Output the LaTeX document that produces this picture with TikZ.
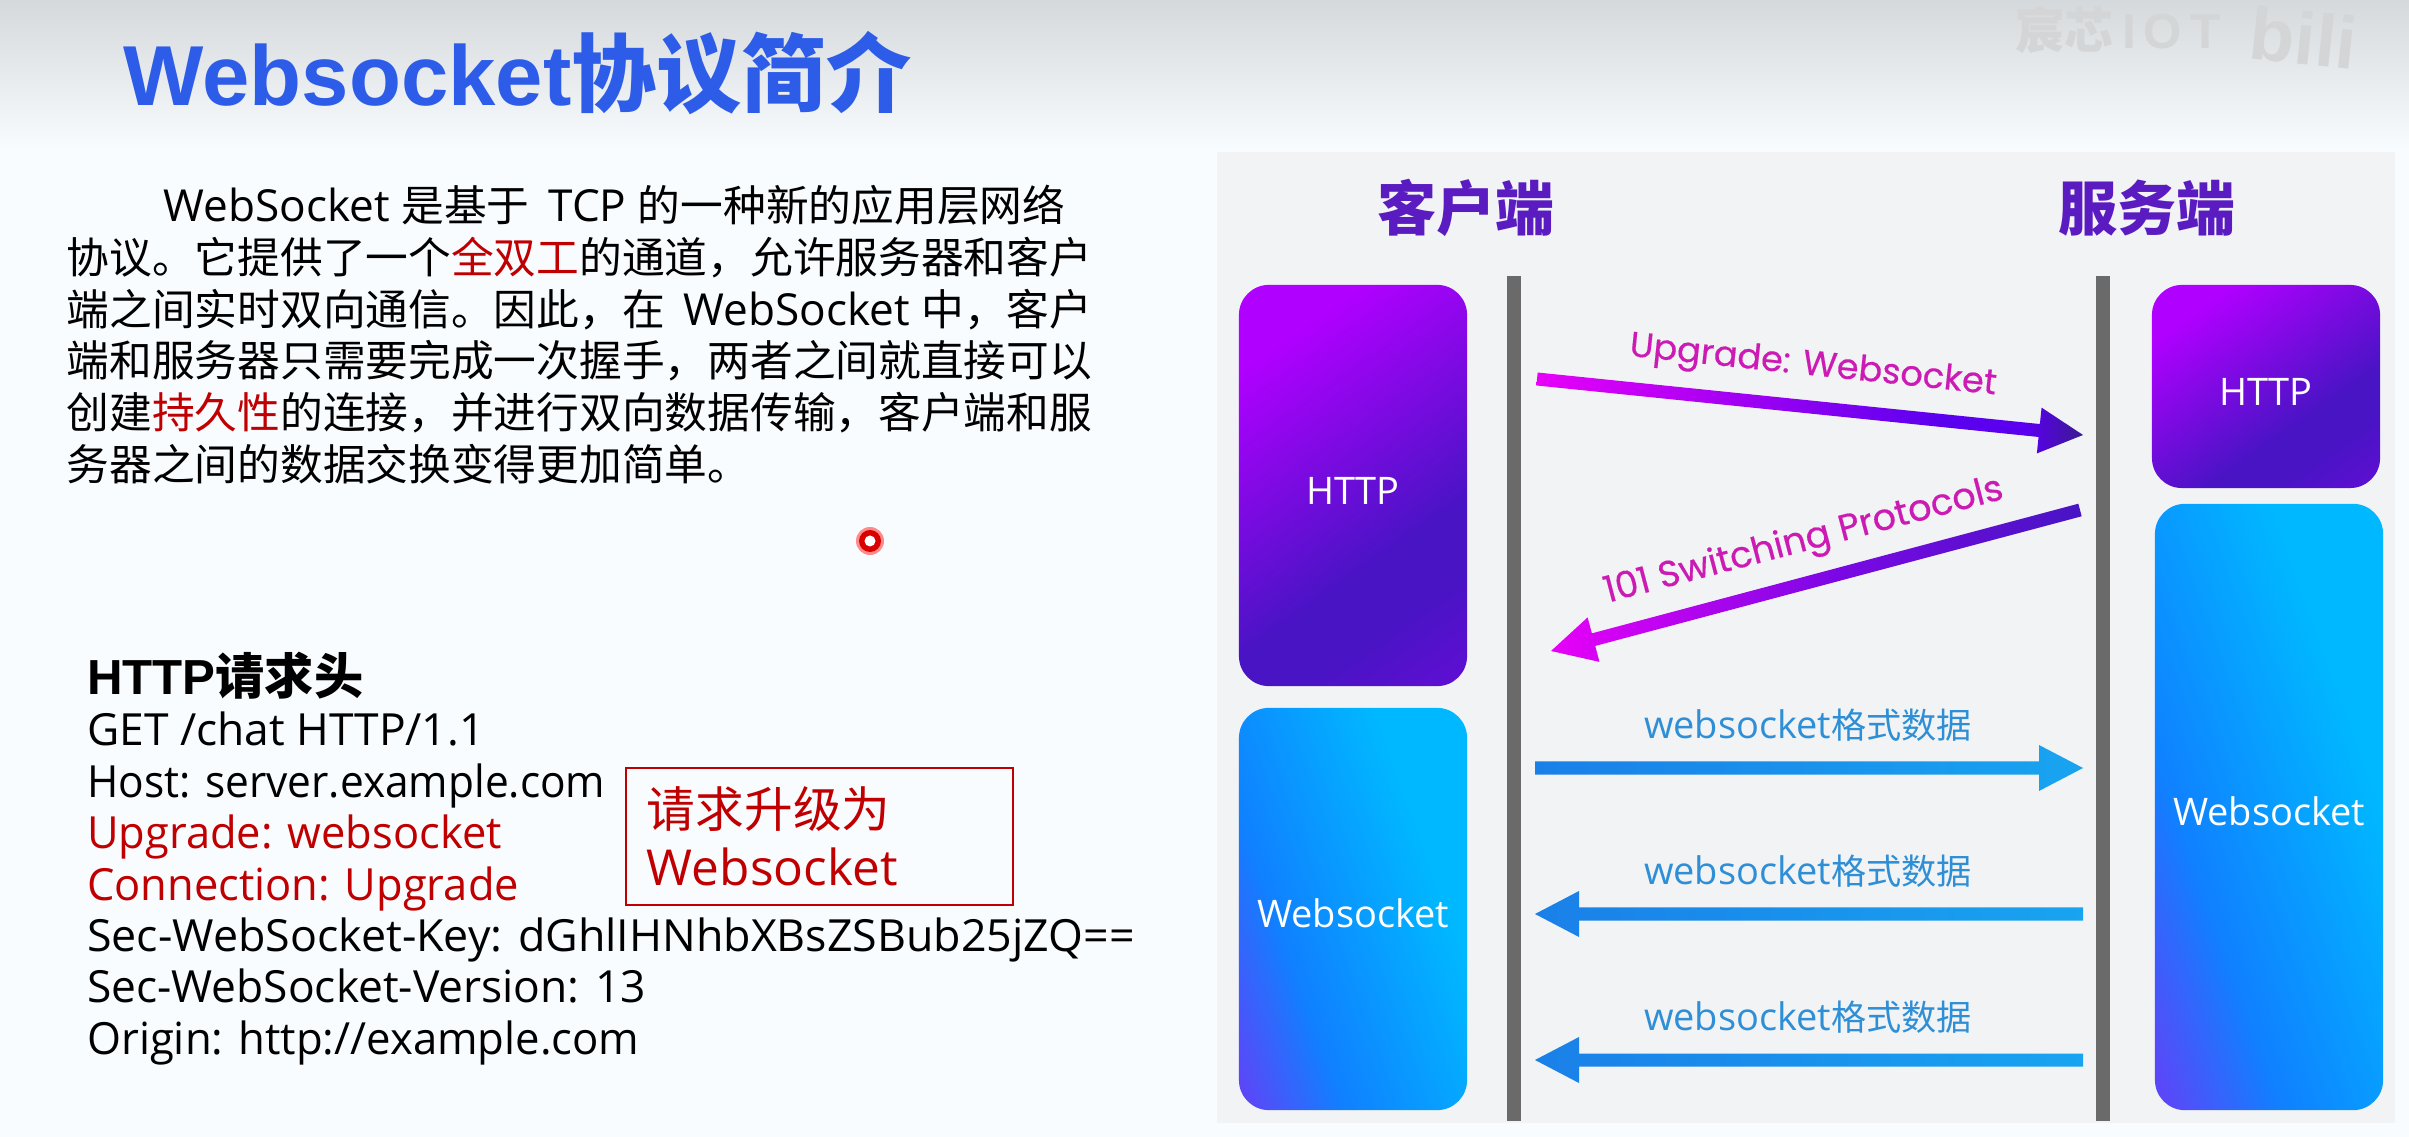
\documentclass[tikz,border=0pt]{standalone}
\usepackage{fontspec}
\setmainfont{Open Sans}
\newfontfamily\cjk{Noto Sans CJK SC}
\newfontfamily\arial{Liberation Sans}
\newfontfamily\poppins[FakeBold=.4]{Poppins}
\usetikzlibrary{calc,positioning,shadings}

\definecolor{titleblue}{HTML}{2D5DE8}
\definecolor{headred}{HTML}{C00000}
\definecolor{panelgrey}{HTML}{F2F3F4}
\definecolor{pagepale}{HTML}{F8FCFF}
\definecolor{pagetop}{HTML}{D5D9DC}
\definecolor{barblack}{HTML}{6A6A6A}
\definecolor{headpurple}{HTML}{5A1CC0}
\definecolor{markgrey}{HTML}{D3D5D6}
\definecolor{purpleA}{HTML}{B000FF}
\definecolor{purpleB}{HTML}{4814C4}
\definecolor{purpleC}{HTML}{7A08E4}
\definecolor{blueA}{HTML}{5A48F8}
\definecolor{blueB}{HTML}{1080FF}
\definecolor{blueC}{HTML}{00B8FF}
\definecolor{arrowA}{HTML}{E800F8}
\definecolor{arrowB}{HTML}{5A00EE}
\definecolor{arrowC}{HTML}{3A1A90}
\definecolor{flowA}{HTML}{1A80E8}
\definecolor{flowB}{HTML}{18A4F0}
\definecolor{flowtext}{HTML}{2E8FD6}
\definecolor{fattext}{HTML}{CC1AB4}

\pgfdeclarehorizontalshading{purplefade}{100bp}{color(0bp)=(purpleA); color(26bp)=(purpleA); color(62bp)=(purpleB); color(70bp)=(purpleB); color(100bp)=(purpleC)}
\pgfdeclarehorizontalshading{bluefade}{100bp}{color(0bp)=(blueA); color(20bp)=(blueA); color(36bp)=(blueB); color(66bp)=(blueC); color(100bp)=(blueC)}
\pgfdeclarehorizontalshading{upfade}{100bp}{color(0bp)=(arrowA); color(25bp)=(arrowA); color(62bp)=(arrowB); color(70bp)=(arrowB); color(75bp)=(arrowC); color(100bp)=(arrowC)}
\pgfdeclarehorizontalshading{downfade}{100bp}{color(0bp)=(arrowA); color(25bp)=(arrowA); color(52bp)=(purpleC); color(75bp)=(purpleB); color(100bp)=(purpleB)}
\pgfdeclarehorizontalshading{flowfade}{100bp}{color(0bp)=(flowA); color(25bp)=(flowA); color(75bp)=(flowB); color(100bp)=(flowB)}

\tikzset{
    boxbase/.style={rounded corners=.3cm,inner sep=0pt,minimum width=2.28cm,text=white,
        text height=.37cm,text depth=0pt,font=\fontsize{10.8}{12}\selectfont},
    httpbox/.style={boxbase,shading=purplefade,shading angle=-55},
    wsbox/.style={boxbase,shading=bluefade,shading angle=20},
    sidehead/.style={font=\cjk\bfseries\fontsize{16.8}{20}\selectfont,text=headpurple},
    lifeline/.style={line width=.14cm,draw=barblack},
    fatlabel/.style={text=fattext},
    flowlabel/.style={font=\fontsize{10.8}{12}\selectfont,text=flowtext},
    bodytext/.style={anchor=north west,inner sep=0pt,align=left},
}
\newcommand{\zh}[1]{{\cjk\fontsize{12.15}{14.7}\selectfont #1}}
\newcommand{\slim}[2]{\scalebox{#1}[1]{#2}}
% fat arrow from #1 to its tip #2, shaded with #3
\newcommand{\fatarrow}[3]{
    \coordinate (neck) at ($(#2)!.44cm!(#1)$);
    \shade[shading=#3] ($(#1)!.065cm!90:(#2)$) -- ($(neck)!.065cm!-90:(#1)$)
        -- ($(neck)!.23cm!-90:(#1)$) -- (#2) -- ($(neck)!.23cm!90:(#1)$)
        -- ($(neck)!.065cm!90:(#1)$) -- ($(#1)!.065cm!-90:(#2)$) -- cycle;
}

\begin{document}
\begin{tikzpicture}[x=.01cm,y=-.01cm]
    \clip (0,0) rectangle (2409,1137);
    \fill [pagepale] (0,0) rectangle (2409,1137);
    \shade [top color=pagetop,bottom color=pagepale] (0,0) rectangle (2409,150);

    % watermark
    \node [inner sep=0pt,text=markgrey,font=\cjk\bfseries\fontsize{14}{16}\selectfont] (markname) at (2118,30) {宸芯\arial\,I\,O\,T};
    \node [inner sep=0pt,anchor=west,rotate=-6,text=markgrey,font=\arial\bfseries\fontsize{21}{23}\selectfont] (marklogo) at (2250,32) {bili};

    \node [inner sep=0pt,anchor=west,text=titleblue,font=\arial\bfseries\fontsize{24.2}{28}\selectfont] (title) at (123,73) {Websocket\cjk 协议简介};

    \node [bodytext,font=\fontsize{12.55}{14.7}\selectfont] (intro) at (66,184.5) {%
        \hspace{.97cm}WebSocket \zh{是基于}\, TCP \zh{的一种新的应用层网络}\\
        \zh{协议。它提供了一个\textcolor{headred}{全双工}的通道，允许服务器和客户}\\
        \zh{端之间实时双向通信。因此，在}\, WebSocket \zh{中，客户}\\
        \zh{端和服务器只需要完成一次握手，两者之间就直接可以}\\
        \zh{创建\textcolor{headred}{持久性}的连接，并进行双向数据传输，客户端和服}\\
        \zh{务器之间的数据交换变得更加简单。}};

    \node [bodytext,font=\fontsize{12.6}{14.6}\selectfont] (request) at (86.5,651.5) {%
        {\arial\bfseries\fontsize{14}{14.6}\selectfont HTTP\cjk 请求头}\\
        GET /chat HTTP/1.1\\
        \slim{.957}{Host: server.example.com}\\
        \textcolor{headred}{\slim{.98}{Upgrade: websocket}}\\
        \textcolor{headred}{\slim{.98}{Connection: Upgrade}}\\
        \slim{1.01}{Sec-WebSocket-Key: dGhlIHNhbXBsZSBub25jZQ==}\\
        Sec-WebSocket-Version: 13\\
        \slim{.985}{Origin: http://example.com}};

    \node [draw=headred,line width=.02cm,text=headred,minimum width=3.87cm,minimum height=1.37cm,
        inner xsep=.21cm,inner ysep=0pt,align=left,text width=3.45cm,
        font=\fontsize{14.1}{16.6}\selectfont] (upgradenote) at (819.5,836.5) {{\cjk\fontsize{13.85}{16.6}\selectfont 请求升级为}\\Websocket};

    \fill [red!45!white] (870,541) circle (.14cm);
    \fill [red!85!black] (870,541) circle (.11cm);
    \fill [white] (870,541) circle (.055cm);

    % right hand figure
    \fill [panelgrey] (1217,152) rectangle (2395,1123);
    \node [sidehead] (clienthead) at (1466,208) {客户端};
    \node [sidehead] (serverhead) at (2147,208) {服务端};

    \node [httpbox,minimum height=4.01cm] (clienthttp) at (1353,485.5) {HTTP};
    \node [wsbox,minimum height=4.02cm] (clientws) at (1353,909) {Websocket};
    \node [httpbox,minimum height=2.03cm] (serverhttp) at (2266,386.5) {HTTP};
    \node [wsbox,minimum height=6.06cm] (serverws) at (2269,807) {Websocket};

    \coordinate (clienttop) at (1514,276);
    \coordinate (clientend) at (1514,1121);
    \coordinate (servertop) at (2103,276);
    \coordinate (serverend) at (2103,1121);
    \draw [lifeline] (clienttop) -- (clientend);
    \draw [lifeline] (servertop) -- (serverend);

    \coordinate (upstart) at (1537,379);
    \coordinate (uptip) at (2083,435);
    \fatarrow{upstart}{uptip}{upfade}
    \node [fatlabel,rotate=-6,font=\poppins\fontsize{10}{12}\selectfont] (uplabel) at (1813,367) {Upgrade: Websocket};

    \coordinate (downstart) at (2080,510);
    \coordinate (downtip) at (1551,651);
    \fatarrow{downstart}{downtip}{downfade}
    \node [fatlabel,rotate=14.7,font=\poppins\fontsize{10.4}{12}\selectfont] (downlabel) at (1804,542) {101 Switching Protocols};

    \foreach \y/\from/\to/\name in {768/1535/2083/one,914/2083/1535/two,1060/2083/1535/three} {
        \coordinate (flow\name start) at (\from,\y);
        \coordinate (flow\name tip) at (\to,\y);
        \fatarrow{flow\name start}{flow\name tip}{flowfade}
        \node [flowlabel] (flow\name label) at (1808,\y-43) {websocket{\cjk\fontsize{10}{12}\selectfont 格式数据}};
    }
\end{tikzpicture}
\end{document}
